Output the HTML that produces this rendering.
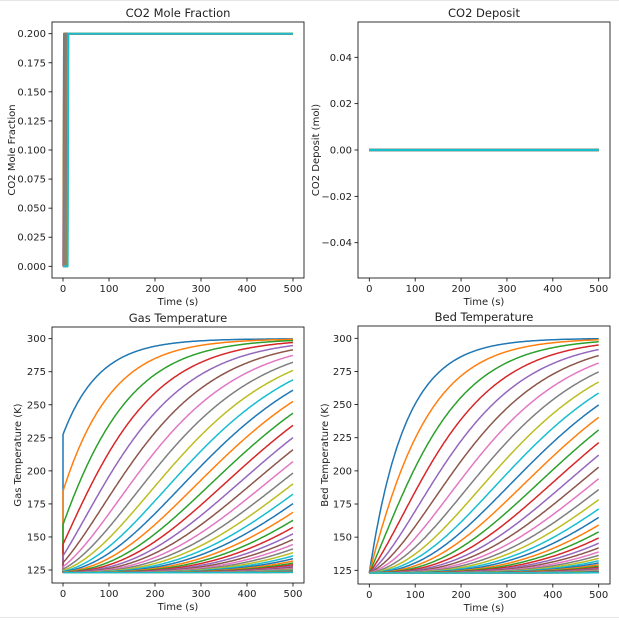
<!DOCTYPE html>
<html><head><meta charset="utf-8">
<style>
html,body{margin:0;padding:0;background:#fff;}
svg{display:block;font-family:"DejaVu Sans","Liberation Sans",sans-serif;}
</style></head>
<body>
<svg id="s" width="619" height="620" xmlns="http://www.w3.org/2000/svg">
<line x1="0" y1="0.5" x2="619" y2="0.5" stroke="#e6e6e6"/>
<line x1="0" y1="617.5" x2="619" y2="617.5" stroke="#e6e6e6"/>
<g id="g"></g>
</svg>
<script>
var NS="http://www.w3.org/2000/svg",G=document.getElementById('g');
function el(n,a,t){var e=document.createElementNS(NS,n);for(var k in a)e.setAttribute(k,a[k]);if(t!==undefined)e.textContent=t;G.appendChild(e);return e;}
var C=["#1f77b4","#ff7f0e","#2ca02c","#d62728","#9467bd","#8c564b","#e377c2","#7f7f7f","#bcbd22","#17becf"];
function axes(o){
 var X=function(t){return o.x0+(o.x1-o.x0)*t/500;};
 o.X=X;
 return o;
}
function frame(o){
 el('rect',{x:o.L,y:o.T,width:o.R-o.L,height:o.B-o.T,fill:'none',stroke:'#000','stroke-width':0.8});
 for(var t=0;t<=500;t+=100){var x=o.X(t);
  el('line',{x1:x,y1:o.B,x2:x,y2:o.B+3.5,stroke:'#000','stroke-width':0.8});
  el('text',{x:x,y:o.B+14,'font-size':10,'text-anchor':'middle',fill:'#222'},String(t));}
 o.yticks.forEach(function(v){var y=o.Y(v);
  el('line',{x1:o.L,y1:y,x2:o.L-3.5,y2:y,stroke:'#000','stroke-width':0.8});
  el('text',{x:o.L-6,y:y+3.5,'font-size':10,'text-anchor':'end',fill:'#222'},o.fmt(v));});
 el('text',{x:(o.L+o.R)/2,y:o.T-5,'font-size':11.5,'text-anchor':'middle',fill:'#222'},o.title);
 el('text',{x:(o.L+o.R)/2,y:o.B+27,'font-size':10,'text-anchor':'middle',fill:'#222'},'Time (s)');
 var cx=o.ylx,cy=(o.T+o.B)/2;
 el('text',{x:cx,y:cy,'font-size':10,'text-anchor':'middle',fill:'#222',transform:'rotate(-90 '+cx+' '+cy+')'},o.ylabel);
}
function poly(o,pts,col,w){
 var s=pts.map(function(p){return o.X(p[0]).toFixed(1)+','+o.Y(p[1]).toFixed(1);}).join(' ');
 el('polyline',{points:s,fill:'none',stroke:col,'stroke-width':w||1.5,'stroke-linejoin':'round'});
}
function neg(v){return v<0?'\u2212'+(-v).toFixed(2):v.toFixed(2);}
var A=axes({L:52,R:304,T:22,B:278,x0:63,x1:293,Y:function(v){return 266.3-v/0.2*232.6;},yticks:[0,0.025,0.05,0.075,0.1,0.125,0.15,0.175,0.2],fmt:function(v){return v.toFixed(3);},title:'CO2 Mole Fraction',ylabel:'CO2 Mole Fraction',ylx:15});
var B=axes({L:358,R:610,T:22,B:278,x0:369.3,x1:598.7,Y:function(v){return 150-v/0.04*92.7;},yticks:[-0.04,-0.02,0,0.02,0.04],fmt:neg,title:'CO2 Deposit',ylabel:'CO2 Deposit (mol)',ylx:319});
var Cg=axes({L:52,R:304,T:327,B:583,x0:63,x1:293,Y:function(v){return 570-(v-125)*231.3/175;},yticks:[125,150,175,200,225,250,275,300],fmt:String,title:'Gas Temperature',ylabel:'Gas Temperature (K)',ylx:21});
var D=axes({L:358,R:610,T:326,B:584,x0:369.3,x1:598.7,Y:function(v){return 570.3-(v-125)*232/175;},yticks:[125,150,175,200,225,250,275,300],fmt:String,title:'Bed Temperature',ylabel:'Bed Temperature (K)',ylx:328});
var N=50;
var r=0.59,c=0.031,dt=0.25,Tb=[],gas=[],bed=[],i,k;
for(k=0;k<N;k++){Tb.push(123);gas.push([[0,123]]);bed.push([[0,123]]);}
var steps=2000;
for(i=0;i<=steps;i++){
 var t=i*dt,prev=300,Tg=[],d=[];
 for(k=0;k<N;k++){Tg[k]=Tb[k]+(prev-Tb[k])*r;d[k]=c*(prev-Tg[k]);prev=Tg[k];}
 if(i%8==0){for(k=0;k<N;k++){gas[k].push([t,Tg[k]]);if(i>0)bed[k].push([t,Tb[k]]);}}
 for(k=0;k<N;k++)Tb[k]+=d[k]*dt;
}
for(k=0;k<N;k++){
 var tk=0.2*k+0.5;
 poly(A,[[0,0],[tk,0],[tk+1.5,0.2],[500,0.2]],C[k%10],1.8);
 poly(B,[[0,0],[500,0]],C[k%10],2.2);
 poly(Cg,gas[k],C[k%10]);
 poly(D,bed[k],C[k%10]);
}
[A,B,Cg,D].forEach(frame);
</script>
</body></html>
